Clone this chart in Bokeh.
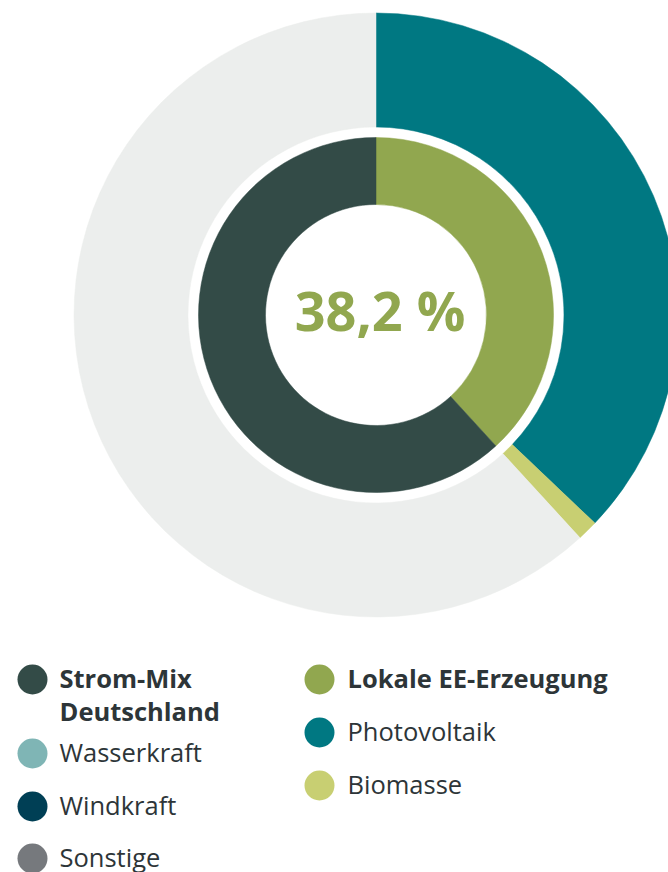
import math
from bokeh.plotting import figure
from bokeh.models import Range1d, ColumnDataSource
from bokeh.core.properties import value
from bokeh.embed import file_html
from bokeh.resources import INLINE

# ---- data ----
inner_labels = ["Lokale EE-Erzeugung", "Strom-Mix Deutschland"]
inner_values = [38.2, 61.8]
inner_colors = ["#91a74f", "#334b47"]

outer_labels = ["Photovoltaik", "Biomasse", "Wasserkraft", "Windkraft", "Sonstige", "Rest"]
outer_values = [37.1, 1.1, 0.0, 0.0, 0.0, 61.8]
outer_colors = ["#007882", "#c8cf72", "#7fb5b5", "#003f55", "#76797d", "#eceeed"]

center_label = "38,2 %"

legend_left = ["Strom-Mix\nDeutschland", "Wasserkraft", "Windkraft", "Sonstige"]
legend_left_colors = ["#334b47", "#7fb5b5", "#003f55", "#76797d"]
legend_left_bold = [True, False, False, False]
legend_right = ["Lokale EE-Erzeugung", "Photovoltaik", "Biomasse"]
legend_right_colors = ["#91a74f", "#007882", "#c8cf72"]
legend_right_bold = [True, False, False]

W, H = 668, 872
FONT = "Open Sans"
TXT = "#2d3538"

p = figure(width=W, height=H, output_backend="svg", toolbar_location=None,
           x_range=Range1d(0, W), y_range=Range1d(0, H), min_border=0)
p.axis.visible = False
p.grid.visible = False
p.outline_line_color = None
p.background_fill_color = "white"
p.border_fill_color = "white"

cx, cy = 375.5, H - 314.5


def wedges(vals):
    tot = sum(vals)
    starts, ends = [], []
    c = 0.0
    for v in vals:
        starts.append(math.pi / 2 - 2 * math.pi * c / tot)
        c += v
        ends.append(math.pi / 2 - 2 * math.pi * c / tot)
    return starts, ends


s, e = wedges(outer_values)
keep = [i for i, v in enumerate(outer_values) if v > 0]
src_o = ColumnDataSource(dict(start=[s[i] for i in keep], end=[e[i] for i in keep],
                              color=[outer_colors[i] for i in keep]))
p.annular_wedge(x=cx, y=cy, inner_radius=188, outer_radius=302, start_angle="start",
                end_angle="end", direction="clock", fill_color="color", line_color="color",
                line_width=0.5, source=src_o)

s, e = wedges(inner_values)
src_i = ColumnDataSource(dict(start=s, end=e, color=inner_colors))
p.annular_wedge(x=cx, y=cy, inner_radius=110.5, outer_radius=177.5, start_angle="start",
                end_angle="end", direction="clock", fill_color="color", line_color="color",
                line_width=0.5, source=src_i)

p.text(x=[379.5], y=[H - 309], text=[center_label], text_font=value(FONT),
       text_font_style="bold", text_font_size="54px", text_color="#91a74f",
       text_align="center", text_baseline="alphabetic")

# legend
left_y = [679, 753, 806, 858]
right_y = [679, 732, 785]


def legend(xc, xt, ys, labels, colors, bolds):
    for yy, lab, col, b in zip(ys, labels, colors, bolds):
        yf = H - yy
        p.scatter(x=[xc], y=[yf], size=30, marker="circle", fill_color=col, line_color=None)
        lines = lab.split("\n")
        for k, ln in enumerate(lines):
            p.text(x=[xt], y=[yf + 2 - 33 * k], text=[ln], text_font=value(FONT),
                   text_font_style="bold" if b else "normal", text_font_size="25.5px",
                   text_color=TXT, text_align="left", text_baseline="alphabetic")


legend(32, 59, left_y, legend_left, legend_left_colors, legend_left_bold)
legend(319, 347, right_y, legend_right, legend_right_colors, legend_right_bold)

open("out.html", "w").write(file_html(p, INLINE))
